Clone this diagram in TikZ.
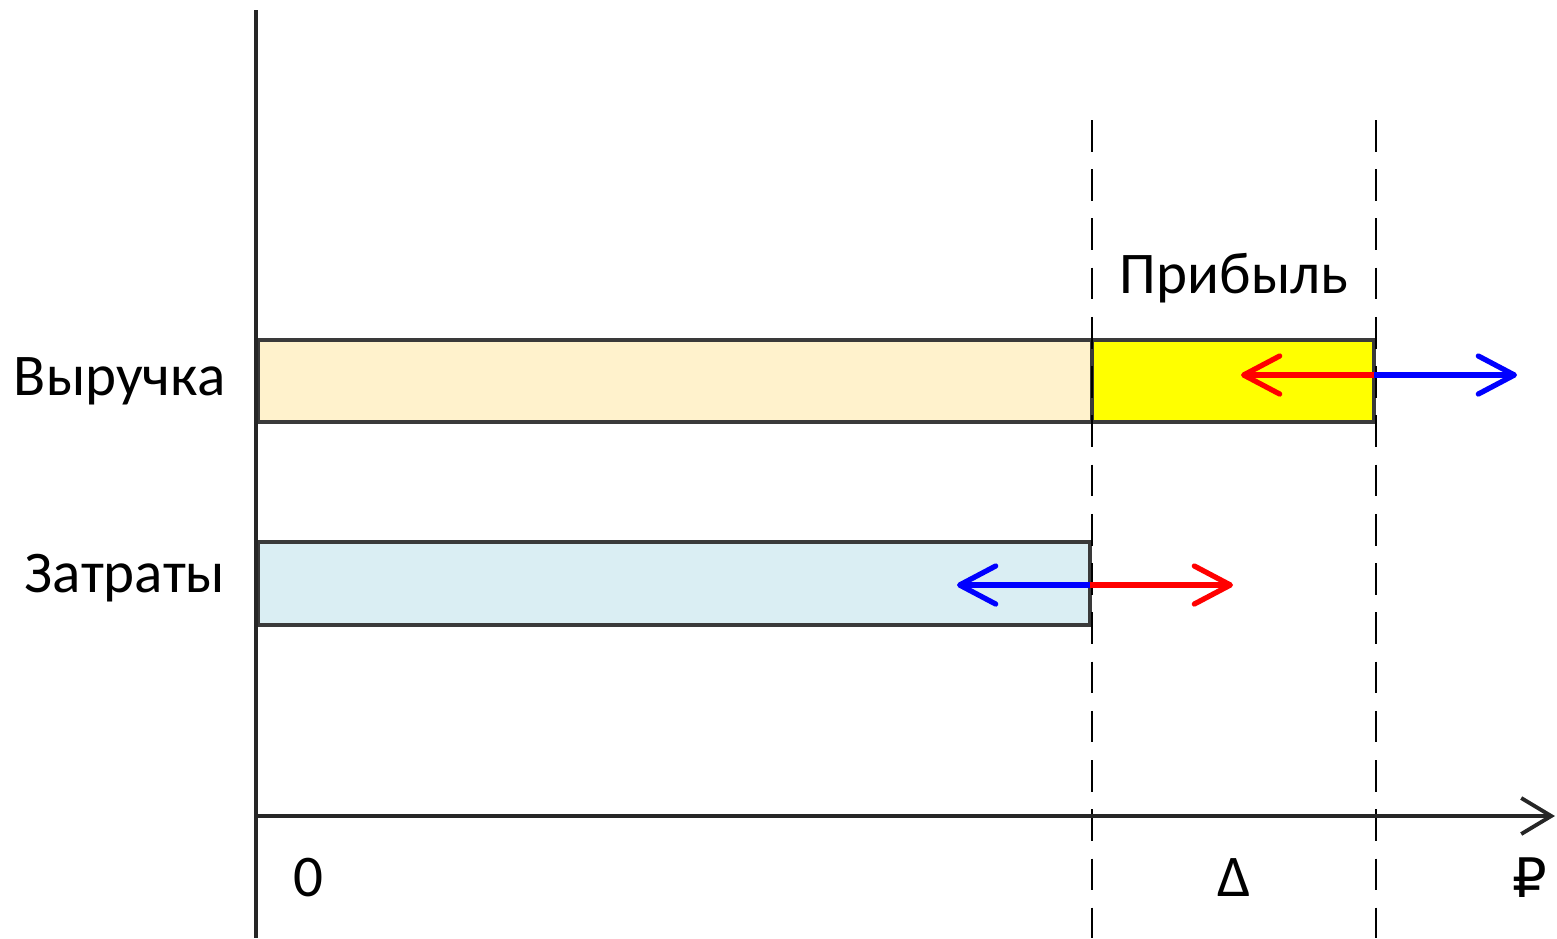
\documentclass[tikz,border=0pt]{standalone}
\usepackage{fontspec}
\setmainfont{Carlito}
\newfontfamily\symfont{DejaVu Sans}
\usetikzlibrary{arrows.meta}
\definecolor{revfill}{HTML}{FFF2CC}
\definecolor{costfill}{HTML}{DAEEF3}
\definecolor{profitfill}{HTML}{FFFF00}
\definecolor{barline}{HTML}{3A3A3A}
\begin{document}
\begin{tikzpicture}[x=0.01cm,y=-0.01cm,
  axisline/.style={line width=1.1pt,black!85},
  guide/.style={line width=0.8pt,black,dash pattern=on 9pt off 5pt},
  bar/.style={draw=barline,line width=1pt},
  movearrow/.style={line width=1.5pt,-{Straight Barb[length=0.36cm,width=0.38cm,line width=1.5pt,round]}},
  lbl/.style={font=\fontsize{16.8}{20}\selectfont,inner sep=0pt}]
\useasboundingbox (0,0) rectangle (1557,938);

% bars
\path[bar,fill=revfill] (258,340) rectangle (1092,422);
\path[bar,fill=profitfill] (1092,340) rectangle (1374,422);
\path[bar,fill=costfill] (258,542) rectangle (1090,625);

% guide lines at the break points
\coordinate (g1t) at (1092,120); \coordinate (g1b) at (1092,938);
\coordinate (g2t) at (1376,120); \coordinate (g2b) at (1376,938);
\draw[guide] (g1t) -- (g1b);
\draw[guide] (g2t) -- (g2b);

% axes
\coordinate (origin) at (256,816);
\coordinate (ytop) at (256,10);
\coordinate (ybot) at (256,938);
\coordinate (xend) at (1555,816);
\draw[axisline] (ytop) -- (ybot);
\draw[axisline,-{Straight Barb[length=0.3cm,width=0.36cm,line width=1.1pt]}] (origin) -- (xend);

% shift arrows
\coordinate (r0) at (1374,375);
\coordinate (rl) at (1241,375);
\coordinate (rr) at (1517,375);
\coordinate (c0) at (1090,585);
\coordinate (cl) at (957,585);
\coordinate (cr) at (1233,585);
\draw[movearrow,red] (r0) -- (rl);
\draw[movearrow,blue] (r0) -- (rr);
\draw[movearrow,blue] (c0) -- (cl);
\draw[movearrow,red] (c0) -- (cr);

% labels
\node[lbl,anchor=east] (rev) at (226,381) {Выручка};
\node[lbl,anchor=east] (cost) at (226,578) {Затраты};
\node[lbl] (profit) at (1234,278) {Прибыль};
\node[lbl] (zero) at (308,878) {0};
\node[lbl] (delta) at (1234,878) {Δ};
\node[lbl,font=\symfont\fontsize{15.5}{20}\selectfont] (rub) at (1530,878) {₽};
\end{tikzpicture}
\end{document}
